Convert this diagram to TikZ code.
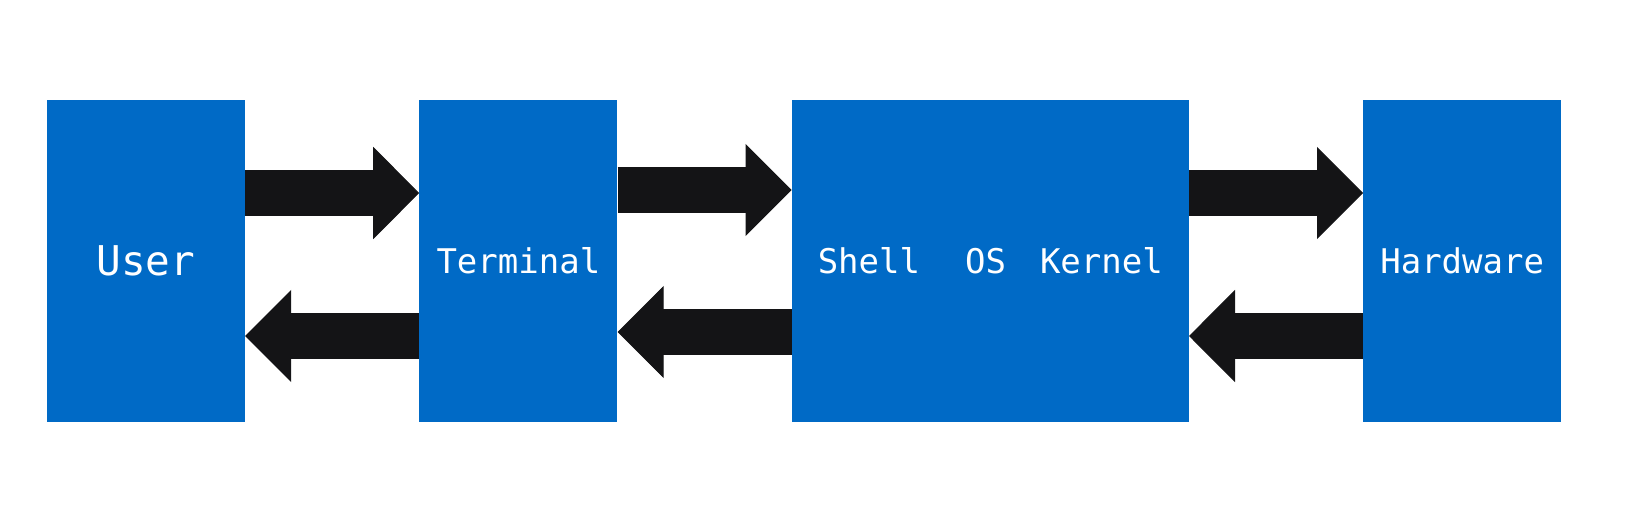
\documentclass[tikz,border=0pt]{standalone}
\usepackage{fontspec}
\newfontfamily\boxfont{DejaVu Sans Mono}
\usetikzlibrary{arrows.meta, positioning}
\definecolor{boxblue}{RGB}{0,106,198}
\definecolor{arrowblack}{RGB}{20,20,22}

\begin{document}
\begin{tikzpicture}[x=1pt, y=1pt,
node distance = 174pt,
   box/.style = {fill=boxblue, text=white, inner sep=0pt,
                 minimum width=198pt, minimum height=322pt,
                 font=\boxfont\fontsize{34}{40}\selectfont},
  flow/.style = {draw=arrowblack, line width=46pt,
                 -{Triangle[length=46pt, width=92pt, line width=1pt]}},
         ]
\useasboundingbox (0,0) rectangle (1643,-531);
\node (user) [box, font=\boxfont\fontsize{41}{48}\selectfont]
             at (146,-261) {User};
\node (term) [box, right=of user]    {Terminal};
\node (os)   [box, right=of term, minimum width=397pt]
             {Shell\hspace{45pt}OS\hspace{34pt}Kernel};
\node (hw)   [box, right=of os]      {Hardware};

%
\draw[flow] ([yshift=68pt]user.east) -- ([yshift=68pt]term.west);
\draw[flow] ([yshift=-75pt]term.west) -- ([yshift=-75pt]user.east);
\draw[flow] ([yshift=71pt]term.east) -- ([yshift=71pt]os.west);
\draw[flow] ([yshift=-71pt]os.west) -- ([yshift=-71pt]term.east);
\draw[flow] ([yshift=68pt]os.east) -- ([yshift=68pt]hw.west);
\draw[flow] ([yshift=-75pt]hw.west) -- ([yshift=-75pt]os.east);
\end{tikzpicture}
\end{document}
